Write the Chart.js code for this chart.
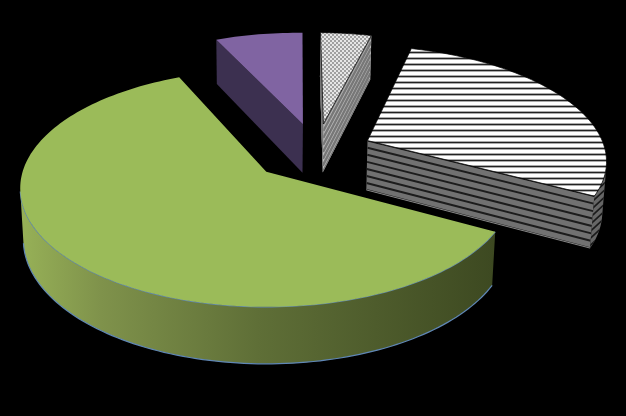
<!DOCTYPE html>
<html>
<head>
<meta charset="utf-8">
<style>
  html, body { margin: 0; padding: 0; background: #000; }
  #wrap { width: 626px; height: 416px; }
</style>
</head>
<body>
<div id="wrap"><canvas id="chart" width="626" height="416"></canvas></div>
<script src="https://cdn.jsdelivr.net/npm/chart.js@4"></script>
<script>
const categories = ['A', 'B', 'C', 'D'];
const sliceValues = [60.4, 6.9, 4.0, 28.7];

// tilted camera: maps a point of the pie disc (u, v) at depth h (0 top, 1 bottom) to the canvas
const view = { x: 266, y: 172, a: 245, b: 117, k: 0.14, depth: 51.5, shrink: 0.0127 };
const pieCentre = { u: 0.203, v: -0.178 };
const explode = 0.26;
const radius = 0.995;
// small per-slice corrections of the explode direction
const nudgeU = [-0.01, 0.008, 0.008, -0.012];

function project(u, v, h) {
  const w = 1 - view.k * v + view.shrink * h;
  return {
    x: view.x + view.a * u / w,
    y: view.y + (view.b * v + view.depth * h) / w
  };
}

function tracePath(ctx, pts) {
  ctx.beginPath();
  pts.forEach((p, i) => (i ? ctx.lineTo(p.x, p.y) : ctx.moveTo(p.x, p.y)));
}

function isFacing(a, b, c, d) {
  const pts = [a, b, c, d];
  let sum = 0;
  pts.forEach((p, i) => {
    const q = pts[(i + 1) % 4];
    sum += p.x * q.y - q.x * p.y;
  });
  return sum < 0;
}

function makePattern(ctx, rows) {
  const tile = document.createElement('canvas');
  tile.width = rows[0].length;
  tile.height = rows.length;
  const t = tile.getContext('2d');
  rows.forEach((row, y) => row.forEach((c, x) => {
    t.fillStyle = c;
    t.fillRect(x, y, 1, 1);
  }));
  return ctx.createPattern(tile, 'repeat');
}

function drawBands(ctx, quad, A, B, fill, line, width, bands) {
  ctx.save();
  tracePath(ctx, quad);
  ctx.closePath();
  ctx.fillStyle = fill;
  ctx.fill();
  ctx.clip();
  ctx.strokeStyle = line;
  ctx.lineWidth = width;
  for (let i = 0; i <= bands; i++) {
    tracePath(ctx, [project(A.u, A.v, i / bands), project(B.u, B.v, i / bands)]);
    ctx.stroke();
  }
  ctx.restore();
}

function drawRim(ctx, arc, index) {
  // keep only the part of the outer wall that looks at the camera
  const visible = [];
  for (let i = 0; i < arc.length - 1; i++) {
    const p = arc[i], q = arc[i + 1];
    if (isFacing(project(p.u, p.v, 0), project(q.u, q.v, 0), project(q.u, q.v, 1), project(p.u, p.v, 1))) {
      if (!visible.length) visible.push(p);
      visible.push(q);
    }
  }
  if (!visible.length) return;
  const topEdge = visible.map(p => project(p.u, p.v, 0));
  const lowEdge = visible.map(p => project(p.u, p.v, 1));
  const quad = topEdge.concat(lowEdge.slice().reverse());

  ctx.save();
  tracePath(ctx, quad);
  ctx.closePath();
  if (index === 0) {
    const grad = ctx.createLinearGradient(20, 0, 494, 0);
    grad.addColorStop(0, '#97b157');
    grad.addColorStop(0.17, '#7f924b');
    grad.addColorStop(0.5, '#5f6f37');
    grad.addColorStop(1, '#3d4921');
    ctx.fillStyle = grad;
    ctx.fill();
    ctx.strokeStyle = '#5f86b5';
    ctx.lineWidth = 1.2;
    tracePath(ctx, topEdge);
    ctx.stroke();
    tracePath(ctx, lowEdge);
    ctx.stroke();
  } else {
    ctx.fillStyle = '#666';
    ctx.fill();
    ctx.clip();
    ctx.strokeStyle = '#1a1a1a';
    ctx.lineWidth = 1.6;
    for (let y = 150; y < 270; y += 7) {
      tracePath(ctx, [{ x: 610, y: y - 14 }, { x: 580, y: y + 14 }]);
      ctx.stroke();
    }
  }
  ctx.restore();
}

const pie3d = {
  id: 'pie3d',
  beforeDatasetDraw(chart) {
    const ctx = chart.ctx;
    const arcs = chart.getDatasetMeta(0).data;
    const stripes = makePattern(ctx, [
      ['#fff'], ['#fff'], ['#fff'], ['#aaa'], ['#222'], ['#aaa']
    ]);
    const dots = makePattern(ctx, [
      ['#e6e6e6', '#e6e6e6', '#a0a0a0', '#a0a0a0'],
      ['#e6e6e6', '#e6e6e6', '#a0a0a0', '#a0a0a0'],
      ['#a0a0a0', '#a0a0a0', '#e6e6e6', '#e6e6e6'],
      ['#a0a0a0', '#a0a0a0', '#e6e6e6', '#e6e6e6']
    ]);
    const topFills = ['#9bbb59', '#8064a2', dots, stripes];
    // back slices first, the big front one last
    [1, 2, 3, 0].forEach(index => {
      const el = arcs[index];
      const mid = (el.startAngle + el.endAngle) / 2;
      const apex = {
        u: pieCentre.u + Math.cos(mid) * explode + nudgeU[index],
        v: pieCentre.v + Math.sin(mid) * explode
      };
      const arc = [];
      const steps = Math.ceil((el.endAngle - el.startAngle) * 40);
      for (let i = 0; i <= steps; i++) {
        const t = el.startAngle + (el.endAngle - el.startAngle) * i / steps;
        arc.push({ u: apex.u + Math.cos(t) * radius, v: apex.v + Math.sin(t) * radius });
      }
      const first = arc[0], last = arc[arc.length - 1];

      // flat side walls
      [[apex, first], [last, apex]].forEach(([A, B]) => {
        const quad = [project(A.u, A.v, 0), project(B.u, B.v, 0), project(B.u, B.v, 1), project(A.u, A.v, 1)];
        if (!isFacing(quad[0], quad[1], quad[2], quad[3])) return;
        if (index === 1) {
          tracePath(ctx, quad);
          ctx.closePath();
          ctx.fillStyle = '#3c3050';
          ctx.fill();
        } else if (index === 2) {
          drawBands(ctx, quad, A, B, '#bdbdbd', '#777', 2.4, 7);
        } else if (index === 3) {
          drawBands(ctx, quad, A, B, '#717171', '#1c1c1c', 2, 7);
          ctx.strokeStyle = '#999';
          ctx.lineWidth = 0.8;
          tracePath(ctx, [quad[3], quad[2]]);
          ctx.stroke();
        }
      });
      drawRim(ctx, arc, index);

      // top face
      const top = [apex].concat(arc).map(p => project(p.u, p.v, 0));
      tracePath(ctx, top);
      ctx.closePath();
      ctx.fillStyle = topFills[index];
      ctx.fill();
      if (index === 2 || index === 3) {
        ctx.strokeStyle = '#000';
        ctx.lineWidth = 0.7;
        ctx.stroke();
      }
    });
    return false; // the flat pie is replaced by the faces above
  }
};

new Chart(document.getElementById('chart'), {
  type: 'pie',
  data: {
    labels: categories,
    datasets: [{ data: sliceValues, borderWidth: 0 }]
  },
  options: {
    responsive: false,
    animation: false,
    rotation: 118.8,
    plugins: {
      legend: { display: false },
      tooltip: { enabled: false }
    }
  },
  plugins: [pie3d]
});
</script>
</body>
</html>
